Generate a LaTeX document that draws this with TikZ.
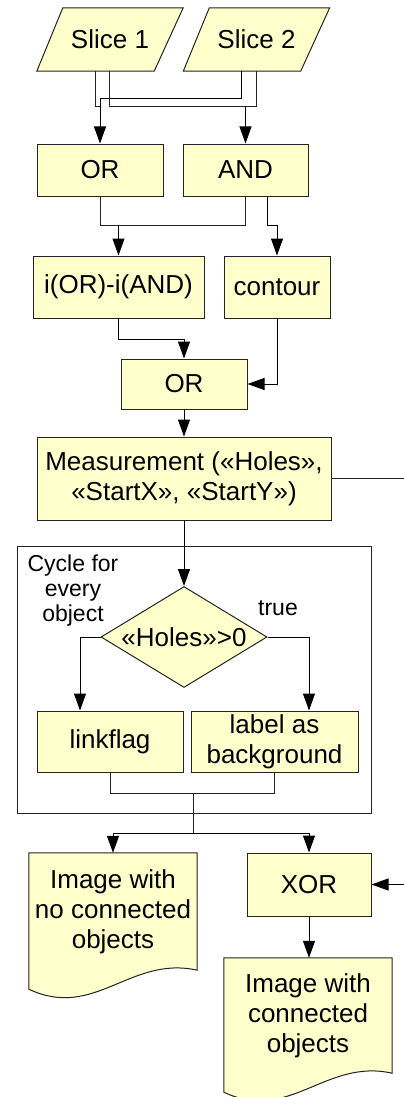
\documentclass[tikz,border=0pt]{standalone}
\usepackage{fontspec}
\setmainfont{Liberation Sans}
\usetikzlibrary{arrows.meta,shapes.geometric,backgrounds}
\definecolor{paper}{RGB}{255,255,204}
\definecolor{ink}{RGB}{35,35,35}
\tikzset{
  >={Triangle[length=17pt,width=12pt]},
  txt/.style={font=\fontsize{26}{30}\selectfont,align=center},
  box/.style={txt,draw=ink,fill=paper,line width=1pt,inner sep=2pt},
  slice/.style={txt,minimum width=146,minimum height=63,inner sep=0pt},
  test/.style={box,diamond,shape aspect=1.64,inner sep=0pt,minimum width=166,minimum height=101},
  doc/.style={txt,minimum width=168,inner sep=0pt},
  frame/.style={draw=ink,line width=1pt},
  tag/.style={font=\fontsize{23}{25}\selectfont,align=center,inner sep=0pt},
  wire/.style={draw=ink,line width=1pt},
  flow/.style={->,draw=black,line width=1pt},
  outline/.style={draw=ink,fill=paper,line width=1pt},
}
\begin{document}
\begin{tikzpicture}[x=1pt,y=-1pt]
  \useasboundingbox (0,0) rectangle (404,1097);
  % inputs and first operations
  \node[slice] (s1) at (110,39.5) {Slice 1};
  \node[slice] (s2) at (256.5,39.5) {Slice 2};
  \node[box,minimum width=126,minimum height=52] (or1) at (100,170) {OR};
  \node[box,minimum width=125,minimum height=52] (and1) at (245.5,170) {AND};
  \node[box,minimum width=171,minimum height=62] (diff) at (118.5,287) {i(OR)-i(AND)};
  \node[box,minimum width=106,minimum height=62] (cont) at (277,287) {contour};
  \node[box,minimum width=126,minimum height=50] (or2) at (184,384) {OR};
  \node[box,minimum width=294,minimum height=83] (meas) at (184,478.5) {Measurement («Holes»,\\«StartX», «StartY»)};
  % loop over the objects
  \node[frame,minimum width=354,minimum height=267] (loop) at (194,679.5) {};
  \node[tag] (cyc) at (73,591) {Cycle for\\every\\object};
  \node[test] (holes) at (184,637) {«Holes»>0};
  \node[tag] (yes) at (278,608) {true};
  \node[box,minimum width=146,minimum height=61] (link) at (110,741.5) {linkflag};
  \node[box,minimum width=167,minimum height=61] (lbl) at (274.5,741.5) {label as\\background};
  % results
  \node[doc,minimum height=117] (doc1) at (113,911.5) {Image with\\no connected\\objects};
  \node[box,minimum width=124,minimum height=63] (xor) at (309,884.5) {XOR};
  \node[doc,minimum height=115] (doc2) at (308,1015.5) {Image with\\connected\\objects};
  \begin{scope}[on background layer]
    \foreach \s in {s1,s2}
      \draw[outline] (\s.south west) -- ([xshift=-29pt]\s.south east) -- (\s.north east)
        -- ([xshift=26pt]\s.north west) -- cycle;
    \foreach \d in {doc1,doc2}
      \draw[outline] (\d.north west) -- (\d.north east) -- (\d.south east)
        .. controls +(-67,-15) and +(66,31) .. ([yshift=-19pt]\d.south west) -- cycle;
  \end{scope}
  % connectors
  \coordinate (busA) at (0,98.5);
  \coordinate (busB) at (0,107);
  \coordinate (s1a) at ([xshift=-15pt]s1.south);
  \coordinate (s1b) at ([xshift=-1pt]s1.south);
  \coordinate (s2a) at ([xshift=-15pt]s2.south);
  \coordinate (s2b) at ([xshift=-0.5pt]s2.south);
  \draw[wire] (s1a) |- (or1.north |- busB);
  \draw[flow] (s2a) |- (or1.north |- busA) -- (or1.north);
  \draw[wire] (s1b) |- (s2b |- busB) -- (s2b);
  \draw[flow] (and1.north |- busB) -- (and1.north);
  \coordinate (busC) at (0,225);
  \coordinate (and1b) at ([xshift=21.5pt]and1.south);
  \draw[wire] (or1.south) |- (and1.south |- busC) -- (and1.south);
  \draw[flow] (diff.north |- busC) -- (diff.north);
  \draw[flow] (and1b) |- (cont.north |- busC) -- (cont.north);
  \coordinate (busD) at (0,339);
  \draw[flow] (diff.south) |- (or2.north |- busD) -- (or2.north);
  \draw[flow] (cont.south) |- (or2.east);
  \draw[flow] (or2) -- (meas);
  \coordinate (measout) at (404,478.5);
  \draw[wire] (meas.east) -- (measout);
  \draw[flow] (meas) -- (holes);
  \coordinate (linkin) at ([xshift=-30pt]link.north);
  \coordinate (lblin) at ([xshift=34.5pt]lbl.north);
  \draw[flow] (holes.west) -| (linkin);
  \draw[flow] (holes.east) -| (lblin);
  \coordinate (join) at (193,793);
  \coordinate (fork) at (193,833);
  \draw[wire] (link.south) |- (lbl.south |- join) -- (lbl.south);
  \draw[wire] (join) -- (fork);
  \draw[flow] (fork) -| (doc1.north);
  \draw[flow] (fork) -| (xor.north);
  \coordinate (xorin) at (404,884.5);
  \draw[flow] (xorin) -- (xor.east);
  \draw[flow] (xor.south) -- (xor.south |- doc2.north);
\end{tikzpicture}
\end{document}
